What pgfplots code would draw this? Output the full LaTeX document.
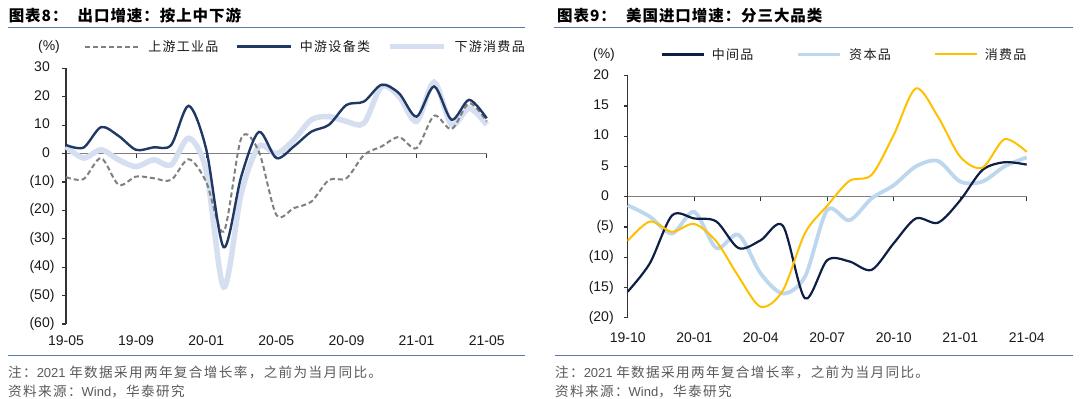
\documentclass[border=0pt]{standalone}
\usepackage{pgfplots}
\pgfplotsset{compat=1.18}
\usepackage{fontspec}
\setmainfont{Liberation Sans}
\newfontfamily\cjk{Noto Sans CJK SC}
\newfontfamily\cjks[LetterSpace=10]{Noto Sans CJK SC}
\newfontfamily\cjkt[LetterSpace=6]{Noto Sans CJK SC}
\definecolor{navyL}{HTML}{203864}
\definecolor{lightL}{HTML}{D5DFF1}
\definecolor{greyL}{HTML}{7F7F7F}
\definecolor{navyR}{HTML}{0E1E45}
\definecolor{lightR}{HTML}{BDD7EE}
\definecolor{yellowR}{HTML}{FFC000}
\definecolor{rulec}{HTML}{5A7AAE}
\definecolor{txt}{HTML}{1A1A1A}
\definecolor{foot}{HTML}{595959}
\definecolor{axc}{HTML}{333333}
\definecolor{zc}{HTML}{7F7F7F}

\pgfplotsset{
  base/.style={scale only axis, axis background/.style={},
    tick label style={font=\fontsize{14}{14}\selectfont, text=txt},
    axis line style={-}, clip=false},
  zero/.style={base, axis x line=middle, axis y line=none, ytick=\empty,
    xticklabels={}, xtick align=outside, major tick length=4.5pt,
    x axis line style={-, draw=zc, line width=1.5pt},
    x tick style={draw=axc, line width=1.2pt}},
  main/.style={base, axis y line*=left, axis x line*=bottom,
    x axis line style={draw=none}, y axis line style={-, draw=axc, line width=1.2pt},
    ytick align=outside, major tick length=4pt,
    x tick style={draw=none}, y tick style={draw=axc, line width=1.2pt},
    xticklabel style={yshift=-8pt}, yticklabel style={xshift=-4pt},
    legend columns=-1,
    legend style={draw=none, fill=none, inner sep=0pt, anchor=west,
      font=\cjks\fontsize{13}{13}\selectfont, text=txt,
      nodes={inner sep=0pt},
      /tikz/every odd column/.append style={column sep=8pt}},
    legend cell align=left},
}

\begin{document}
\begin{tikzpicture}[x=1pt,y=1pt]
\path[use as bounding box] (0,0) rectangle (1080,399);

% ---------- titles and rules ----------
\node[anchor=west, inner sep=0pt, text=black] at (8.6,383.5) {\cjkt\bfseries\fontsize{15.5}{16}\selectfont 图表8：};
\node[anchor=west, inner sep=0pt, text=black] at (77.5,383.5) {\cjkt\bfseries\fontsize{15.5}{16}\selectfont 出口增速：按上中下游};
\node[anchor=west, inner sep=0pt, text=black] at (557,383.5) {\cjkt\bfseries\fontsize{15.5}{16}\selectfont 图表9：};
\node[anchor=west, inner sep=0pt, text=black] at (626,383.5) {\cjkt\bfseries\fontsize{15.5}{16}\selectfont 美国进口增速：分三大品类};
\draw[rulec, line width=1.3pt] (8,371.5) -- (525,371.5);
\draw[rulec, line width=1.3pt] (554,371.5) -- (1073,371.5);
\draw[rulec, line width=1.3pt] (8,43.5) -- (525,43.5);
\draw[rulec, line width=1.3pt] (555,43.5) -- (1073,43.5);

% ---------- footers ----------
\node[anchor=west, inner sep=0pt, text=foot] at (8,26.3) {\fontsize{13}{13}\selectfont{\cjks\fontsize{13.6}{13}\selectfont 注：}2021 {\cjks\fontsize{13.6}{13}\selectfont 年数据采用两年复合增长率，之前为当月同比。}};
\node[anchor=west, inner sep=0pt, text=foot] at (8,7.3) {\fontsize{13}{13}\selectfont{\cjks\fontsize{13.6}{13}\selectfont 资料来源：}Wind{\cjks\fontsize{13.6}{13}\selectfont ，华泰研究}};
\node[anchor=west, inner sep=0pt, text=foot] at (555,26.3) {\fontsize{13}{13}\selectfont{\cjks\fontsize{13.6}{13}\selectfont 注：}2021 {\cjks\fontsize{13.6}{13}\selectfont 年数据采用两年复合增长率，之前为当月同比。}};
\node[anchor=west, inner sep=0pt, text=foot] at (555,7.3) {\fontsize{13}{13}\selectfont{\cjks\fontsize{13.6}{13}\selectfont 资料来源：}Wind{\cjks\fontsize{13.6}{13}\selectfont ，华泰研究}};

% ---------- (%) labels ----------
\node[inner sep=0pt, text=txt, font=\fontsize{14}{14}\selectfont] at (49,352.5) {(\%)};
\node[inner sep=0pt, text=txt, font=\fontsize{14}{14}\selectfont] at (604,344.6) {(\%)};

% ================= LEFT CHART =================
\begin{axis}[zero, at={(66pt,75pt)}, anchor=south west, width=420.7pt, height=255.7pt,
  xmin=0, xmax=24, ymin=-60, ymax=30, xtick={0,4,...,24}]
\end{axis}
\begin{axis}[main, at={(66pt,75pt)}, anchor=south west, width=420.7pt, height=255.7pt,
  xmin=0, xmax=24, ymin=-60, ymax=30,
  xtick={0,4,...,24}, xticklabels={19-05,19-09,20-01,20-05,20-09,21-01,21-05},
  ytick={-60,-50,...,30},
  yticklabels={(60),(50),(40),(30),(20),(10),0\phantom{)},10\phantom{)},20\phantom{)},30\phantom{)}},
  legend style={at={(axis description cs:0.043,1.085)},
    /tikz/every even column/.append style={column sep=17pt}},
  legend image code/.code={\draw[#1] (0pt,0pt) -- (54pt,0pt);}]
% downstream consumer (drawn first, underneath)
\addplot[lightL, line width=5.5pt, smooth, tension=0.5, forget plot] coordinates {
(0,2.5)(1,-1.6)(2,1.3)(3,-2.2)(4,-4.6)(5,-2.2)(6,-4.0)(7,5.4)(8,-6)(9,-47)(10,-14)(11,2.5)(12,0)
(13,4.8)(14,11.9)(15,13.0)(16,11.3)(17,10.7)(18,23.6)(19,20.1)(20,11.3)(21,25.1)(22,10.1)(23,16)(24,10.1)};
% upstream industrial
\addplot[greyL, line width=2pt, dash pattern=on 5pt off 3pt, smooth, tension=0.5] coordinates {
(0,-8.3)(1,-9.0)(2,-1.6)(3,-11.0)(4,-8.1)(5,-8.7)(6,-9.3)(7,-2.0)(8,-10)(9,-27.5)(10,5.4)(11,0.7)(12,-21.6)
(13,-19.2)(14,-16.9)(15,-9.3)(16,-8.7)(17,-0.5)(18,2.5)(19,5.8)(20,1.9)(21,13.3)(22,8.6)(23,17.7)(24,11.3)};
\addlegendentry{上游工业品}
% midstream equipment
\addplot[navyL, line width=2.4pt, smooth, tension=0.5] coordinates {
(0,3.0)(1,2.1)(2,9.3)(3,6.2)(4,1.3)(5,2.2)(6,3.0)(7,16.8)(8,1.5)(9,-33)(10,-8)(11,7.6)(12,-1.6)
(13,2.5)(14,7.7)(15,10.1)(16,17.1)(17,18.3)(18,24.2)(19,21.2)(20,13.0)(21,23.6)(22,11.9)(23,18.9)(24,12.4)};
\addlegendentry{中游设备类}
\addlegendimage{lightL, line width=5.5pt}
\addlegendentry{下游消费品}
\end{axis}

% ================= RIGHT CHART =================
\begin{axis}[zero, at={(627.7pt,81.3pt)}, anchor=south west, width=399pt, height=242pt,
  xmin=0, xmax=18, ymin=-20, ymax=20, xtick={0,3,...,18}]
\end{axis}
\begin{axis}[main, at={(627.7pt,81.3pt)}, anchor=south west, width=399pt, height=242pt,
  xmin=0, xmax=18, ymin=-20, ymax=20,
  xtick={0,3,...,18}, xticklabels={19-10,20-01,20-04,20-07,20-10,21-01,21-04},
  ytick={-20,-15,...,20}, yticklabel style={xshift=-2.5pt},
  xticklabel style={yshift=-3.5pt},
  yticklabels={(20),(15),(10),(5),0\phantom{)},5\phantom{)},10\phantom{)},15\phantom{)},20\phantom{)}},
  legend style={at={(axis description cs:0.082,1.088)},
    /tikz/every odd column/.append style={column sep=7pt},
    /tikz/every even column/.append style={column sep=43pt}},
  legend image code/.code={\draw[#1] (0pt,0pt) -- (42pt,0pt);}]
% capital goods (underneath)
\addplot[lightR, line width=3.8pt, smooth, tension=0.5, forget plot] coordinates {
(0,-1.4)(1,-3.3)(2,-6.1)(3,-2.5)(4,-8.5)(5,-6.3)(6,-12.7)(7,-16.0)(8,-13.2)(9,-2.2)
(10,-3.9)(11,-0.3)(12,1.9)(13,5.0)(14,5.9)(15,2.5)(16,2.5)(17,5.0)(18,6.5)};
% intermediate goods
\addplot[navyR, line width=2.2pt, smooth, tension=0.5] coordinates {
(0,-15.7)(1,-11.0)(2,-3.1)(3,-3.6)(4,-4.1)(5,-8.5)(6,-7.2)(7,-4.8)(8,-16.8)(9,-10.5)
(10,-10.7)(11,-12.1)(12,-7.7)(13,-3.6)(14,-4.3)(15,-0.6)(16,4.4)(17,5.7)(18,5.3)};
\addlegendentry{中间品}
\addlegendimage{lightR, line width=3.8pt}
\addlegendentry{资本品}
% consumer goods
\addplot[yellowR, line width=2pt, smooth, tension=0.5] coordinates {
(0,-7.3)(1,-4.1)(2,-5.8)(3,-4.5)(4,-7.4)(5,-13.2)(6,-18.2)(7,-15.5)(8,-6)(9,-1.5)
(10,2.6)(11,3.6)(12,10.2)(13,17.9)(14,13.2)(15,6.6)(16,4.8)(17,9.5)(18,7.4)};
\addlegendentry{消费品}
\end{axis}
\end{tikzpicture}
\end{document}
